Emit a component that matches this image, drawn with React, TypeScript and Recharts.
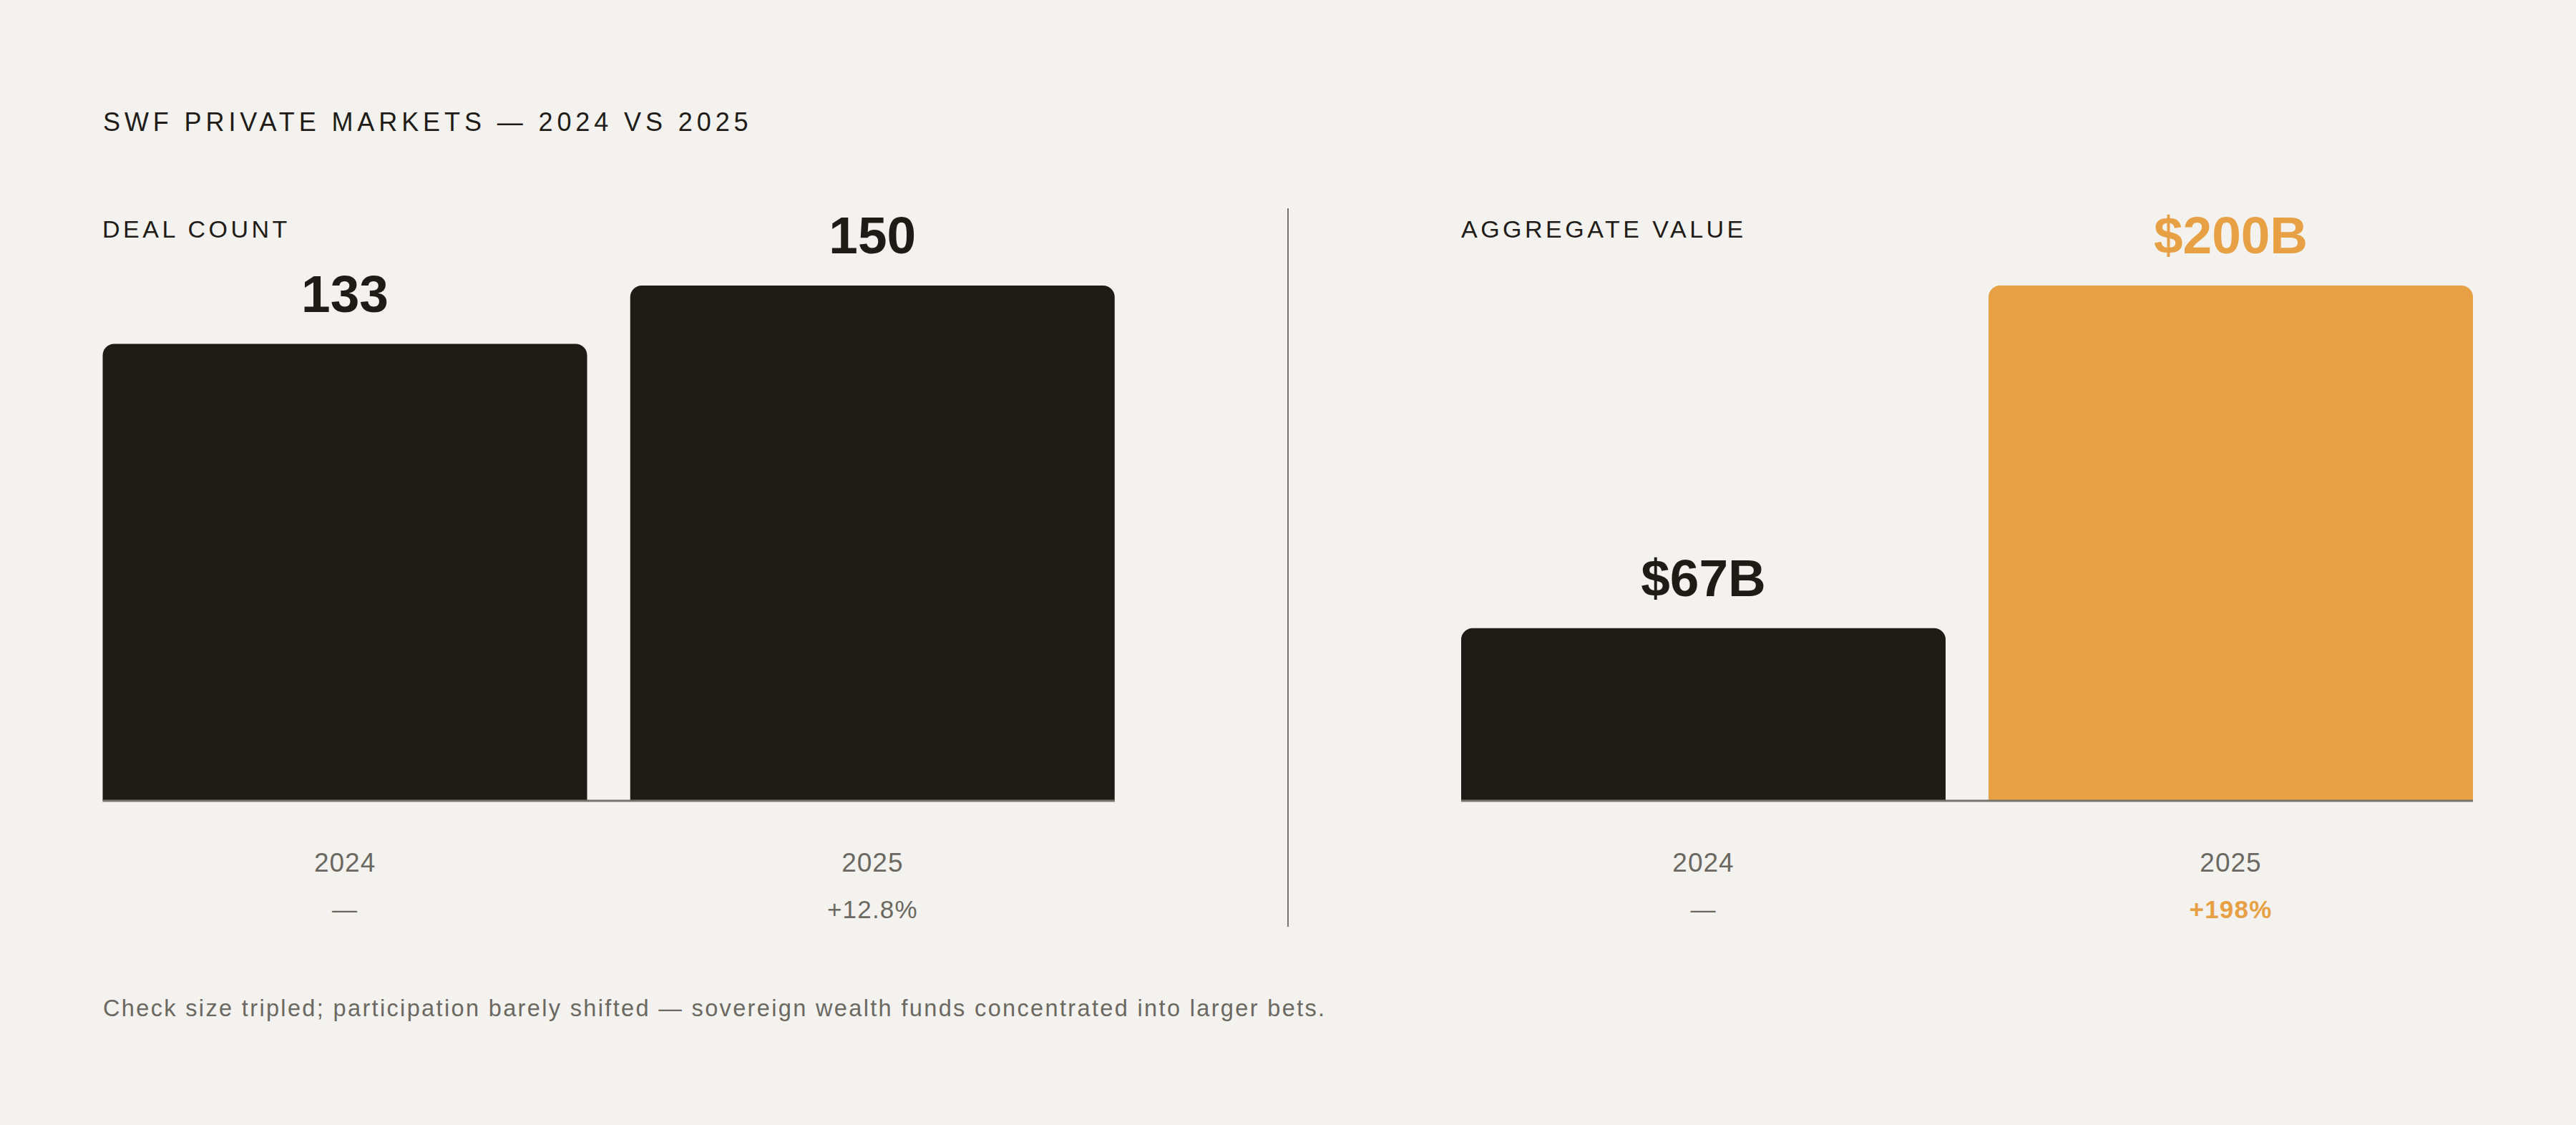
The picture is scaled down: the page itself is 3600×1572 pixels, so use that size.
import React from 'react';
import { BarChart, Bar, XAxis, YAxis, Cell, LabelList } from 'recharts';

const FONT = '"Liberation Sans", Arial, Helvetica, sans-serif';
const BG = '#f3f2ee';
const INK = '#1f1c18';
const ORANGE = '#e8a045';
const MUTED = '#6b6862';
const AXIS = '#77746e';

// ---- data ----
const title = 'SWF PRIVATE MARKETS — 2024 VS 2025';
const footnote = 'Check size tripled; participation barely shifted — sovereign wealth funds concentrated into larger bets.';
const years = ['2024', '2025'];
const dealCounts = [133, 150];
const dealDeltas = ['—', '+12.8%'];
const aggregateValues = [67, 200];
const valueDeltas = ['—', '+198%'];
const dealHighlight = [false, false];
const valueHighlight = [false, true];

type Row = { year: string; value: number; delta: string; hi: boolean };

function buildRows(values: number[], deltas: string[], hi: boolean[]): Row[] {
  return years.map((y, i) => ({ year: y, value: values[i], delta: deltas[i], hi: hi[i] }));
}

function makeTick(rows: Row[]) {
  return (props: any) => {
    const { x, y, payload } = props;
    const row = rows.find((r) => r.year === payload.value);
    const hiDelta = row && row.hi && row.delta !== '—';
    return (
      <g>
        <text x={x} y={y + 99} textAnchor="middle" fill={MUTED} fontFamily={FONT} fontSize={37} letterSpacing={1}>
          {payload.value}
        </text>
        <text
          x={x}
          y={y + 164}
          textAnchor="middle"
          fill={hiDelta ? ORANGE : MUTED}
          fontFamily={FONT}
          fontSize={35}
          fontWeight={hiDelta ? 700 : 400}
          letterSpacing={1.2}
        >
          {row ? row.delta : ''}
        </text>
      </g>
    );
  };
}

function makeLabel(rows: Row[], fmt: (v: number) => string) {
  return (props: any) => {
    const vb = props.viewBox || props;
    const x = vb.x ?? props.x;
    const y = vb.y ?? props.y;
    const w = vb.width ?? props.width;
    const value = props.value;
    const row = rows.find((r) => r.value === value);
    return (
      <text
        x={x + w / 2}
        y={y - 45}
        textAnchor="middle"
        fill={row && row.hi ? ORANGE : INK}
        fontFamily={FONT}
        fontSize={73}
        fontWeight={700}
      >
        {fmt(value)}
      </text>
    );
  };
}

function Panel({
  rows,
  fmt,
  left,
  marginLeft,
  marginRight,
}: {
  rows: Row[];
  fmt: (v: number) => string;
  left: number;
  marginLeft: number;
  marginRight: number;
}) {
  return (
    <div style={{ position: 'absolute', left, top: 0 }}>
      <BarChart
        width={1800}
        height={1572}
        data={rows}
        margin={{ top: 399, bottom: 333, left: marginLeft, right: marginRight }}
        barCategoryGap={30}
      >
        <XAxis
          dataKey="year"
          height={120}
          padding={{ left: -30, right: -30 }}
          axisLine={{ stroke: AXIS, strokeWidth: 3 }}
          tickLine={false}
          tickSize={0}
          tickMargin={0}
          interval={0}
          tick={makeTick(rows)}
        />
        <YAxis hide domain={[0, 'dataMax']} />
        <Bar dataKey="value" isAnimationActive={false} radius={[16, 16, 0, 0]}>
          {rows.map((r, i) => (
            <Cell key={i} fill={r.hi ? ORANGE : INK} />
          ))}
          <LabelList dataKey="value" content={makeLabel(rows, fmt)} />
        </Bar>
      </BarChart>
    </div>
  );
}

const headStyle: React.CSSProperties = {
  position: 'absolute',
  fontFamily: FONT,
  color: INK,
  lineHeight: 1,
  whiteSpace: 'nowrap',
};

export default function App() {
  const dealRows = buildRows(dealCounts, dealDeltas, dealHighlight);
  const valueRows = buildRows(aggregateValues, valueDeltas, valueHighlight);
  return (
    <div style={{ position: 'relative', width: 3600, height: 1572, background: BG, overflow: 'hidden' }}>
      <style>{`body{margin:0;background:${BG}}`}</style>
      <div style={{ ...headStyle, left: 144, top: 152.8, fontSize: 36, letterSpacing: 5.9 }}>{title}</div>
      <div style={{ ...headStyle, left: 143, top: 302.7, fontSize: 34, letterSpacing: 4.5 }}>DEAL COUNT</div>
      <div style={{ ...headStyle, left: 2042, top: 302.7, fontSize: 34, letterSpacing: 4.5 }}>AGGREGATE VALUE</div>
      <Panel rows={dealRows} fmt={(v) => String(v)} left={0} marginLeft={143.5} marginRight={242} />
      <Panel rows={valueRows} fmt={(v) => `$${v}B`} left={1800} marginLeft={242} marginRight={144} />
      <div style={{ position: 'absolute', left: 1799, top: 291, width: 2, height: 1004, background: AXIS }} />
      <div
        style={{
          ...headStyle,
          left: 144,
          top: 1392.5,
          fontSize: 32.5,
          letterSpacing: 2.35,
          color: MUTED,
        }}
      >
        {footnote}
      </div>
    </div>
  );
}
